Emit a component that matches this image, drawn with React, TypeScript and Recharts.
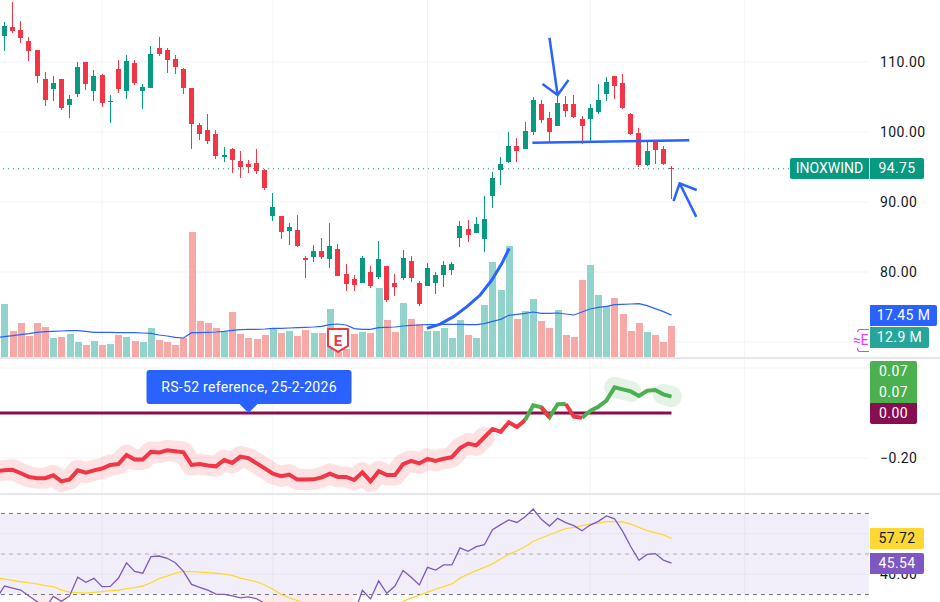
import React from 'react';
import {
  ComposedChart, Bar, Line, Area, XAxis, YAxis, CartesianGrid, ReferenceLine, ReferenceArea, ReferenceDot,
} from 'recharts';

const highs = [115.71,118.57,115.86,113.57,111.71,108.57,108.0,107.57,105.29,110.0,110.0,108.86,108.29,105.29,110.29,111.0,110.29,106.86,112.29,113.57,112.0,111.0,109.14,106.29,101.29,102.57,100.29,97.86,97.71,97.29,96.0,97.57,94.71,91.29,88.0,87.0,88.14,82.29,83.86,84.86,87.0,84.0,81.14,79.57,82.29,80.86,84.43,80.86,79.71,83.14,82.29,78.71,81.29,80.0,81.57,81.43,87.29,87.43,87.86,90.86,94.29,96.43,100.0,99.14,101.43,105.0,104.57,102.86,105.29,105.14,105.29,102.29,104.0,106.86,107.86,108.0,108.29,102.71,100.57,98.71,98.71,98.0,95.14];
const opens = [113.71,115.0,114.57,113.0,111.71,107.57,106.14,107.57,103.86,105.43,110.0,105.86,108.14,104.33,109.0,105.86,109.86,105.86,106.29,112.0,111.71,110.43,109.0,106.29,101.0,100.29,99.71,96.43,97.57,95.86,95.43,95.57,94.57,88.0,88.0,85.86,86.0,82.0,82.14,83.0,81.86,83.29,79.71,79.0,78.43,80.0,79.29,80.86,78.43,79.14,81.57,78.43,78.0,78.43,79.57,80.29,84.86,86.14,85.57,84.71,90.86,94.57,95.71,98.0,97.57,100.0,104.0,102.0,100.86,104.0,104.0,101.86,101.86,102.86,105.43,108.0,107.0,102.57,99.86,95.29,98.71,97.57,94.86];
const closes = [115.14,114.43,113.43,111.57,108.0,104.57,107.0,103.43,104.71,109.29,106.86,108.0,104.14,104.43,106.14,110.14,107.0,106.43,111.14,111.14,110.29,109.29,106.29,101.14,99.71,98.71,96.57,96.71,96.0,95.0,95.0,94.43,92.0,89.29,85.71,86.43,83.71,81.71,83.0,82.14,83.71,79.43,78.29,78.14,82.0,78.0,81.86,76.0,77.86,82.0,79.14,75.43,80.57,79.57,81.0,81.14,86.57,85.29,86.86,87.57,93.43,95.43,98.0,97.29,100.14,104.57,101.71,100.0,104.14,103.0,102.14,100.86,103.43,104.57,107.14,106.57,103.43,99.71,95.29,97.29,97.43,95.43,94.75];
const lows = [111.57,114.14,112.71,110.14,107.0,103.71,104.43,103.14,102.0,105.0,106.0,104.43,103.57,101.29,105.57,104.71,106.71,103.29,106.29,110.86,108.43,108.29,105.43,97.57,98.86,98.29,96.14,95.71,94.14,93.43,94.14,94.0,91.71,87.29,84.71,83.86,83.57,79.14,81.43,81.86,80.57,79.43,77.29,77.29,78.43,77.71,79.0,75.71,76.57,78.86,78.57,75.14,78.0,76.86,77.86,79.57,83.57,84.29,85.57,82.86,89.14,92.43,95.57,95.71,97.57,99.57,101.29,98.43,100.86,102.14,102.0,98.29,98.43,102.57,104.43,104.71,103.29,99.57,95.0,95.14,95.43,95.29,90.43];
const volumes = [22.08,10.83,14.17,8.75,14.17,12.5,7.92,8.33,9.58,6.25,5.0,6.67,5.0,5.42,9.17,8.33,6.67,6.25,12.08,7.08,6.25,5.0,7.92,52.08,15.0,14.17,12.08,10.42,18.75,9.58,7.92,7.5,9.17,11.67,10.0,10.83,8.75,11.25,10.0,10.0,20.0,2.08,3.33,9.58,10.42,10.0,28.75,15.42,10.42,22.5,15.83,13.75,10.83,10.83,12.08,7.92,15.42,9.17,7.92,21.67,39.58,27.92,46.25,15.83,19.17,24.17,15.0,12.08,19.58,9.17,8.33,32.08,38.33,25.83,21.25,24.58,17.92,10.83,14.17,10.42,9.17,6.25,12.92];
const volumeMA = [8.47,8.89,9.31,9.72,10.28,10.56,10.69,10.83,10.97,10.97,10.69,10.28,10.28,10.28,10.14,10.14,10.14,10.0,9.86,9.17,8.75,8.19,7.92,10.14,10.14,10.28,10.42,10.69,11.11,11.39,11.53,11.53,11.67,11.94,11.94,12.08,12.22,12.36,12.5,12.78,13.47,13.75,13.33,11.81,11.53,11.53,12.22,12.36,12.5,12.92,13.19,13.33,13.47,13.47,13.61,13.61,13.61,13.47,13.47,13.89,14.86,15.69,17.36,17.78,18.19,18.75,18.19,18.19,18.33,17.92,17.5,18.75,20.0,20.69,21.11,21.81,21.94,22.08,22.22,21.39,20.14,18.89,17.45];
const rsValues = [-0.255,-0.252,-0.268,-0.284,-0.29,-0.29,-0.277,-0.304,-0.295,-0.255,-0.265,-0.255,-0.247,-0.231,-0.227,-0.187,-0.207,-0.207,-0.173,-0.176,-0.166,-0.17,-0.175,-0.231,-0.227,-0.233,-0.237,-0.209,-0.222,-0.194,-0.201,-0.224,-0.246,-0.27,-0.281,-0.274,-0.296,-0.296,-0.295,-0.286,-0.27,-0.284,-0.284,-0.298,-0.264,-0.304,-0.259,-0.276,-0.276,-0.227,-0.213,-0.224,-0.204,-0.213,-0.203,-0.196,-0.156,-0.136,-0.144,-0.108,-0.071,-0.084,-0.041,-0.062,-0.031,0.034,0.025,-0.019,0.039,0.04,-0.016,-0.021,0.009,0.028,0.055,0.114,0.105,0.096,0.076,0.099,0.102,0.083,0.073];
const rsiValues = [34.2,33.2,32.2,29.3,26.5,23.2,29.1,26.6,29.3,38.5,36.0,38.0,33.9,34.0,38.0,45.6,41.4,40.5,48.7,49.0,47.9,45.7,41.4,35.0,33.5,32.2,30.2,30.1,29.3,28.3,28.8,27.9,25.6,23.2,20.7,20.7,17.4,17.4,17.4,19.1,22.3,19.1,19.1,20.7,32.1,27.8,36.7,30.6,34.2,41.9,38.5,34.7,43.4,42.1,44.6,44.6,53.0,51.3,53.6,54.6,62.0,64.5,66.8,65.6,68.4,72.2,67.1,63.8,67.6,65.5,64.0,61.5,64.3,66.1,68.8,67.4,61.2,53.6,46.9,49.8,50.2,47.0,45.54];
const rsiMA = [37.7,37.0,36.3,35.7,35.3,34.4,33.9,32.2,31.2,30.9,30.7,31.1,31.4,31.9,32.1,32.9,33.4,34.2,35.8,37.8,39.1,40.6,41.4,41.3,41.1,40.8,40.5,40.1,39.5,38.1,37.2,36.3,34.7,32.6,30.1,28.4,27.0,25.6,24.0,22.3,20.7,19.1,18.2,18.7,19.4,20.4,21.5,23.2,24.8,26.6,28.3,29.6,31.2,32.6,33.9,35.2,38.1,40.1,41.8,43.4,45.1,47.5,49.8,51.6,53.6,56.3,57.9,59.5,61.0,62.5,63.2,64.0,64.7,65.3,66.0,66.1,65.8,64.8,63.2,61.5,60.5,59.4,57.72];
const categories = highs.map((_, i) => i);

// The session just off the left edge: only its indicator lines reach into view.
const priorVolumeMA = 8.1;
const priorRs = -0.258;
const priorRsi = 27.9;
const priorRsiMA = 38.2;

const glowRedLast = 59;
const glowGreenRuns = [[75, 77], [81, 82]];

const priceTicks = [110, 100, 90, 80];
const priceGrid = [110, 100, 90, 80, 70];
const timeGrid = [12, 33, 52, 72, 91];
const rsTicks = [-0.2];
const rsGrid = [0.2, -0.2];
const rsiTicks = [40];
const rsiGrid = [60, 40];

const drawnArrowDown = [{ i: 67.0, p: 113.47 }, { i: 68.0, p: 105.29 }];
const drawnArrowDownHead = [{ i: 66.14, p: 106.86 }, { i: 68.0, p: 105.29 }, { i: 69.34, p: 107.43 }];
const drawnNeckline = [{ i: 64.9, p: 98.47 }, { i: 84.2, p: 98.81 }];
const drawnArrowUp = [{ i: 83.0, p: 92.67 }, { i: 85.04, p: 87.88 }];
const drawnArrowUpHead = [{ i: 82.25, p: 90.14 }, { i: 83.0, p: 92.67 }, { i: 85.1, p: 91.71 }];
const drawnCurve = [
  { i: 51.93, p: 71.95 }, { i: 53.56, p: 72.55 }, { i: 55.2, p: 73.62 }, { i: 56.85, p: 75.05 },
  { i: 58.48, p: 76.71 }, { i: 59.92, p: 78.86 }, { i: 61.15, p: 81.24 }, { i: 62.05, p: 83.38 },
];

const rows: any[] = [
  {
    i: -1, range: null, volume: null, volumeMA: priorVolumeMA, rsRed: priorRs, rsGreen: null,
    rsGlowRed: priorRs, rsGlowGreen: null, rsBase: 0, rsi: priorRsi, rsiMA: priorRsiMA,
    rsiLow: [priorRsi, 30],
  },
  ...categories.map((i) => {
    const rs = rsValues[i];
    const next = rsValues[i + 1];
    const rsi = rsiValues[i];
    return {
      i,
      range: [lows[i], highs[i]],
      open: opens[i],
      high: highs[i],
      low: lows[i],
      close: closes[i],
      volume: volumes[i],
      volumeMA: volumeMA[i],
      rsRed: rs < 0 || (next !== undefined && next < 0) ? rs : null,
      rsGreen: rs >= 0 || (next !== undefined && next >= 0) ? rs : null,
      rsGlowRed: i <= glowRedLast ? rs : null,
      rsGlowGreen: glowGreenRuns.some(([a, b]) => i >= a && i <= b) ? rs : null,
      rsBase: 0,
      rsi,
      rsiMA: rsiMA[i],
      rsiLow: rsi < 30 ? [rsi, 30] : null,
    };
  }),
];

const GREEN = '#089981';
const RED = '#f23645';
const BLUE = '#2962ff';
const GRID = '#f2f3f6';
const FONT = 'Roboto, sans-serif';
const W = 940;
const AXIS_W = 71;
const xDomain: [number, number] = [-0.553, 106.28];
const priceDomain: [number, number] = [67.857, 118.857];
const volumeDomain: [number, number] = [0, 148.75];
const rsDomain: [number, number] = [-0.3556, 0.2444];
const rsiDomain: [number, number] = [26.3, 79.63];

function Candle(props: any) {
  const { x, y, width, height, payload } = props;
  const { open, close, high, low } = payload;
  if (open == null) return null;
  const k = high > low ? height / (high - low) : 0;
  const at = (v: number) => y + (high - v) * k;
  const cx = Math.floor(x + width / 2);
  const color = close >= open ? GREEN : RED;
  const top = Math.round(at(Math.max(open, close)));
  const bottom = Math.round(at(Math.min(open, close)));
  return (
    <g>
      <rect x={cx} y={y} width={1} height={height} fill={color} />
      <rect x={cx - 2} y={top} width={5} height={Math.max(bottom - top, 1)} fill={color} />
    </g>
  );
}

function VolumeBar(props: any) {
  const { x, y, width, height, payload } = props;
  if (payload.open == null) return null;
  const cx = Math.floor(x + width / 2);
  const color = payload.close >= payload.open ? '#92d3cc' : '#f7a9a7';
  return <rect x={cx - 3} y={y} width={7} height={height} fill={color} />;
}

function EarningsBadge(props: any) {
  const { cx, cy } = props;
  return (
    <g transform={`translate(${cx},${cy})`}>
      <path d="M-10,-11 H10 V6 L0,12 L-10,6 Z" fill="#fff" stroke={RED} strokeWidth={2} strokeLinejoin="round" />
      <text x={0} y={6} textAnchor="middle" fontFamily={FONT} fontSize={15} fontWeight={700} fill={RED}>E</text>
    </g>
  );
}

function RsBubble(props: any) {
  const { cx, cy } = props;
  return (
    <g transform={`translate(${cx},${cy})`}>
      <path d="M-102,-40 Q-102,-43 -99,-43 H100 Q103,-43 103,-40 V-12 Q103,-9 100,-9 H9 L0,0 L-9,-9 H-99 Q-102,-9 -102,-12 Z" fill={BLUE} />
      <text x={0.5} y={-21} textAnchor="middle" fontFamily={FONT} fontSize={14} letterSpacing={0.3} fill="#fff">RS-52 reference, 25-2-2026</text>
    </g>
  );
}

const tickStyle = { fontFamily: FONT, fontSize: 14, fill: '#131722', letterSpacing: 0.4 };
const fmt = (v: number) => v.toFixed(2).replace('-', '\u2212');

function Tag(p: { left: number; top: number; width: number; height: number; bg: string; color?: string; radius?: string; text: string; spacing?: number }) {
  return (
    <div style={{
      position: 'absolute', left: p.left, top: p.top, width: p.width, height: p.height,
      background: p.bg, color: p.color ?? '#fff', fontFamily: FONT, fontSize: 14, letterSpacing: p.spacing ?? 0.4,
      lineHeight: `${p.height}px`, textAlign: 'center', borderRadius: p.radius ?? '2px', whiteSpace: 'nowrap',
    }}>{p.text}</div>
  );
}

function Ink({ data, width = 2.5 }: { data: any[]; width?: number }) {
  return (
    <Line data={data} dataKey="p" xAxisId="p" yAxisId="p" type="linear" stroke={BLUE} strokeWidth={width}
      dot={false} activeDot={false} isAnimationActive={false} legendType="none" />
  );
}

export default function App() {
  return (
    <div style={{ position: 'absolute', left: 0, top: 0, width: W, height: 602, overflow: 'hidden', background: '#fff' }}>
      {/* Price + volume */}
      <div style={{ position: 'absolute', left: 0, top: 0 }}>
        <ComposedChart width={W} height={357} data={rows} margin={{ top: 0, right: 0, bottom: 0, left: 0 }} barCategoryGap={0}>
          <XAxis xAxisId="p" dataKey="i" type="number" domain={xDomain} allowDataOverflow hide />
          <XAxis xAxisId="v" dataKey="i" type="number" domain={xDomain} allowDataOverflow hide />
          <YAxis yAxisId="p" orientation="right" width={AXIS_W} domain={priceDomain} allowDataOverflow ticks={priceTicks}
            interval={0} tickLine={false} axisLine={false} tickSize={0} tickMargin={11} tick={tickStyle} tickFormatter={fmt} />
          <YAxis yAxisId="v" hide domain={volumeDomain} allowDataOverflow />
          <CartesianGrid xAxisId="p" yAxisId="p" stroke={GRID} horizontalValues={priceGrid} verticalValues={timeGrid} />
          <Bar xAxisId="v" yAxisId="v" dataKey="volume" barSize={7} shape={VolumeBar} isAnimationActive={false} />
          <Line xAxisId="v" yAxisId="v" dataKey="volumeMA" type="linear" stroke={BLUE} strokeWidth={1.2} dot={false} activeDot={false} isAnimationActive={false} />
          <ReferenceLine xAxisId="p" yAxisId="p" y={94.75} stroke={GREEN} strokeDasharray="1 4" strokeWidth={1} />
          <Bar xAxisId="p" yAxisId="p" dataKey="range" barSize={5} shape={Candle} isAnimationActive={false} />
          {Ink({ data: drawnArrowDown })}
          {Ink({ data: drawnArrowDownHead })}
          {Ink({ data: drawnNeckline, width: 2.5 })}
          {Ink({ data: drawnArrowUp })}
          {Ink({ data: drawnArrowUpHead })}
          {Ink({ data: drawnCurve, width: 3 })}
          <ReferenceDot xAxisId="p" yAxisId="p" x={41} y={70.29} shape={EarningsBadge} />
        </ComposedChart>
      </div>

      {/* RS */}
      <div style={{ position: 'absolute', left: 0, top: 358 }}>
        <ComposedChart width={W} height={135} data={rows} margin={{ top: 0, right: 0, bottom: 0, left: 0 }}>
          <XAxis dataKey="i" type="number" domain={xDomain} allowDataOverflow hide />
          <YAxis orientation="right" width={AXIS_W} domain={rsDomain} allowDataOverflow ticks={rsTicks} interval={0}
            tickLine={false} axisLine={false} tickSize={0} tickMargin={11} tick={tickStyle} tickFormatter={fmt} />
          <CartesianGrid stroke={GRID} horizontalValues={rsGrid} verticalValues={timeGrid} />
          <Line dataKey="rsGlowRed" stroke={RED} strokeOpacity={0.15} strokeWidth={21} strokeLinecap="round" strokeLinejoin="round" dot={false} activeDot={false} isAnimationActive={false} />
          <Line dataKey="rsGlowGreen" stroke="#4caf50" strokeOpacity={0.15} strokeWidth={21} strokeLinecap="round" strokeLinejoin="round" dot={false} activeDot={false} isAnimationActive={false} />
          <Line dataKey="rsBase" stroke="#880e4f" strokeWidth={3} dot={false} activeDot={false} isAnimationActive={false} />
          <Line dataKey="rsGreen" stroke="#4caf50" strokeWidth={4} dot={false} activeDot={false} isAnimationActive={false} />
          <Line dataKey="rsRed" stroke={RED} strokeWidth={4} dot={false} activeDot={false} isAnimationActive={false} />
          <ReferenceDot x={30} y={0} shape={RsBubble} />
        </ComposedChart>
      </div>

      {/* RSI */}
      <div style={{ position: 'absolute', left: 0, top: 494 }}>
        <ComposedChart width={W} height={108} data={rows} margin={{ top: 0, right: 0, bottom: 0, left: 0 }}>
          <XAxis dataKey="i" type="number" domain={xDomain} allowDataOverflow hide />
          <YAxis orientation="right" width={AXIS_W} domain={rsiDomain} allowDataOverflow ticks={rsiTicks} interval={0}
            tickLine={false} axisLine={false} tickSize={0} tickMargin={11} tick={tickStyle} tickFormatter={fmt} />
          <ReferenceArea y1={30} y2={70} fill="#7e57c2" fillOpacity={0.1} stroke="none" />
          <CartesianGrid stroke="rgba(0,0,0,0.045)" horizontalValues={rsiGrid} verticalValues={timeGrid} />
          <Area dataKey="rsiLow" stroke="none" fill={RED} fillOpacity={0.1} dot={false} activeDot={false} isAnimationActive={false} />
          <ReferenceLine y={70} stroke="#787b86" strokeDasharray="4 4" />
          <ReferenceLine y={50} stroke="#787b86" strokeOpacity={0.55} strokeDasharray="4 4" />
          <ReferenceLine y={30} stroke="#787b86" strokeDasharray="4 4" />
          <Line dataKey="rsiMA" stroke="#fdd835" strokeWidth={1.3} dot={false} activeDot={false} isAnimationActive={false} />
          <Line dataKey="rsi" stroke="#7e57c2" strokeWidth={1.3} dot={false} activeDot={false} isAnimationActive={false} />
        </ComposedChart>
      </div>

      {/* Pane separators */}
      <div style={{ position: 'absolute', left: 0, top: 357, width: W, height: 1.5, background: '#e6e7ea' }} />
      <div style={{ position: 'absolute', left: 0, top: 493, width: W, height: 1.5, background: '#e6e7ea' }} />

      {/* Price-scale tags */}
      <Tag left={790} top={158} width={79} height={21} bg={GREEN} radius="2px 0 0 2px" spacing={0} text="INOXWIND" />
      <Tag left={870} top={158} width={54} height={21} bg={GREEN} radius="0 2px 2px 0" text="94.75" />
      <Tag left={870} top={305} width={67} height={21} bg={BLUE} radius="0 2px 2px 0" text="17.45 M" />
      <Tag left={870} top={327} width={59} height={21} bg="#26a69a" radius="0 2px 2px 0" text="12.9 M" />
      <div style={{
        position: 'absolute', left: 857, top: 329, width: 12, height: 23, border: '1.5px solid #e040fb', borderRight: 'none',
        borderRadius: '3px 0 0 3px', boxSizing: 'border-box',
      }} />
      <div style={{
        position: 'absolute', left: 853, top: 329, width: 16, height: 23, color: '#e040fb', fontFamily: FONT, fontSize: 14,
        lineHeight: '23px', whiteSpace: 'nowrap', letterSpacing: -0.5,
      }}><span style={{ background: '#fff' }}>≈</span>E</div>
      <Tag left={870} top={361} width={47} height={21} bg="#4caf50" radius="2px 2px 0 0" text="0.07" />
      <Tag left={870} top={382} width={47} height={21} bg="#4caf50" radius="0" text="0.07" />
      <Tag left={870} top={403} width={47} height={21} bg="#880e4f" radius="0 0 2px 2px" text="0.00" />
      <Tag left={870} top={528} width={54} height={21} bg="#fdd835" color="#131722" radius="0 2px 2px 0" text="57.72" />
      <Tag left={870} top={553} width={54} height={21} bg="#7e57c2" radius="0 2px 2px 0" text="45.54" />
    </div>
  );
}
